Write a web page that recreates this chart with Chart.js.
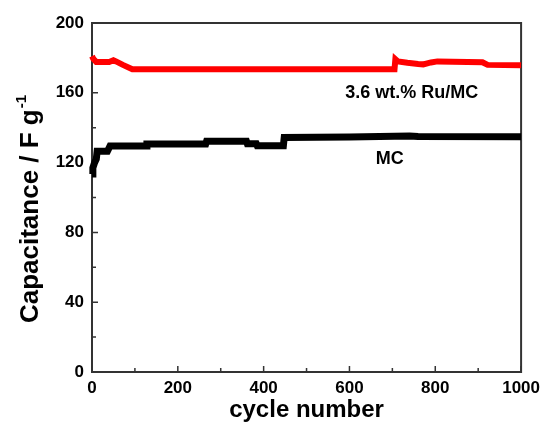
<!DOCTYPE html>
<html lang="en">
<head>
    <meta charset="UTF-8">
    <title>Capacitance vs cycle number</title>
    <script src="https://cdn.jsdelivr.net/npm/chart.js"></script>
    <style>
        body { margin: 0; background: #fff; }
        #wrap { width: 546px; height: 426px; }
    </style>
</head>
<body>
    <div id="wrap">
        <canvas id="capChart" width="546" height="426"></canvas>
    </div>

    <script>
        // Ru/MC series (red)
        const ruCycles = [0, 3, 10, 40, 50, 56, 72, 94, 705, 707, 713, 735, 760, 772, 790, 805, 910, 922, 1000];
        const ruCap    = [181, 179.5, 177.6, 177.6, 178.6, 178, 176, 173.5, 173.5, 179.3, 178, 177.2, 176.5, 176.3, 177.4, 178, 177.5, 176, 175.8];

        // plain MC series (black)
        const mcCycles = [0, 2, 6, 10, 12, 36, 42, 126, 128, 265, 267, 360, 362, 383, 385, 446, 448, 600, 740, 760, 1000];
        const mcCap    = [113.5, 117, 120, 122, 126.5, 126.5, 129.5, 129.5, 130.6, 130.6, 132.2, 132.2, 130.8, 130.8, 129.7, 129.7, 134.4, 134.6, 135.2, 135, 134.8];

        const xTicksLabelled = [0, 200, 400, 600, 800, 1000];
        const yTicksLabelled = [0, 40, 80, 120, 160, 200];

        const toPoints = (xs, ys) => xs.map((x, i) => ({ x: x, y: ys[i] }));

        const FONT = '"Liberation Sans", Arial, sans-serif';

        // frame, inward ticks, y title with superscript, curve labels
        const decorPlugin = {
            id: 'decor',
            beforeDatasetsDraw(chart) {
                const { ctx, chartArea: a, scales } = chart;
                ctx.save();
                ctx.strokeStyle = '#333';
                ctx.lineWidth = 2;
                ctx.strokeRect(a.left, a.top, a.right - a.left, a.bottom - a.top);

                ctx.lineWidth = 1.5;
                ctx.beginPath();
                scales.x.ticks.forEach(t => {
                    const px = scales.x.getPixelForValue(t.value);
                    const len = xTicksLabelled.includes(t.value) ? 6 : 4;
                    ctx.moveTo(px, a.bottom);
                    ctx.lineTo(px, a.bottom - len);
                });
                scales.y.ticks.forEach(t => {
                    const py = scales.y.getPixelForValue(t.value);
                    const len = yTicksLabelled.includes(t.value) ? 6 : 4;
                    ctx.moveTo(a.left, py);
                    ctx.lineTo(a.left + len, py);
                });
                ctx.stroke();
                ctx.restore();
            },
            afterDraw(chart) {
                const { ctx, chartArea: a, scales } = chart;
                ctx.save();

                // y axis title, rotated
                ctx.translate(38, (a.top + a.bottom) / 2 + 12);
                ctx.rotate(-Math.PI / 2);
                ctx.fillStyle = '#000';
                ctx.textBaseline = 'alphabetic';
                ctx.font = 'bold 26px ' + FONT;
                const main = 'Capacitance / F g';
                const mainW = ctx.measureText(main).width;
                ctx.font = 'bold 15px ' + FONT;
                const supW = ctx.measureText('-1').width;
                const start = -(mainW + supW) / 2;
                ctx.font = 'bold 26px ' + FONT;
                ctx.fillText(main, start, 0);
                ctx.font = 'bold 15px ' + FONT;
                ctx.fillText('-1', start + mainW + 1, -12);
                ctx.restore();

                // curve labels
                ctx.save();
                ctx.fillStyle = '#000';
                ctx.font = 'bold 18px ' + FONT;
                ctx.textAlign = 'center';
                ctx.textBaseline = 'middle';
                ctx.fillText('3.6 wt.% Ru/MC', scales.x.getPixelForValue(745), scales.y.getPixelForValue(160));
                ctx.fillText('MC', scales.x.getPixelForValue(694), scales.y.getPixelForValue(122.3));
                ctx.restore();
            }
        };

        const ctx = document.getElementById('capChart').getContext('2d');
        const capChart = new Chart(ctx, {
            type: 'line',
            data: {
                datasets: [{
                    label: '3.6 wt.% Ru/MC',
                    data: toPoints(ruCycles, ruCap),
                    borderColor: '#ff0000',
                    borderWidth: 6,
                    pointRadius: 0,
                    tension: 0,
                    clip: 4
                }, {
                    label: 'MC',
                    data: toPoints(mcCycles, mcCap),
                    borderColor: '#000000',
                    borderWidth: 7,
                    pointRadius: 0,
                    tension: 0,
                    clip: 4
                }]
            },
            options: {
                responsive: false,
                animation: false,
                layout: { padding: { top: 23, right: 22, left: 0, bottom: 0 } },
                plugins: {
                    legend: { display: false },
                    tooltip: { enabled: false }
                },
                scales: {
                    x: {
                        type: 'linear',
                        min: 0,
                        max: 1000,
                        grid: { display: false, drawTicks: false },
                        border: { display: false },
                        ticks: {
                            stepSize: 100,
                            autoSkip: false,
                            maxRotation: 0,
                            padding: 6,
                            color: '#000',
                            font: { family: FONT, size: 17, weight: 'bold' },
                            callback: v => xTicksLabelled.includes(v) ? String(v) : ''
                        },
                        title: {
                            display: true,
                            text: 'cycle number',
                            color: '#000',
                            font: { family: FONT, size: 24, weight: 'bold' },
                            padding: { top: 0, bottom: 1 }
                        },
                        afterFit: s => { s.height = 54; }
                    },
                    y: {
                        min: 0,
                        max: 200,
                        grid: { display: false, drawTicks: false },
                        border: { display: false },
                        ticks: {
                            stepSize: 20,
                            autoSkip: false,
                            padding: 8,
                            color: '#000',
                            font: { family: FONT, size: 17, weight: 'bold' },
                            callback: v => yTicksLabelled.includes(v) ? String(v) : ''
                        },
                        afterFit: s => { s.width = 92; }
                    }
                }
            },
            plugins: [decorPlugin]
        });
    </script>
</body>
</html>
